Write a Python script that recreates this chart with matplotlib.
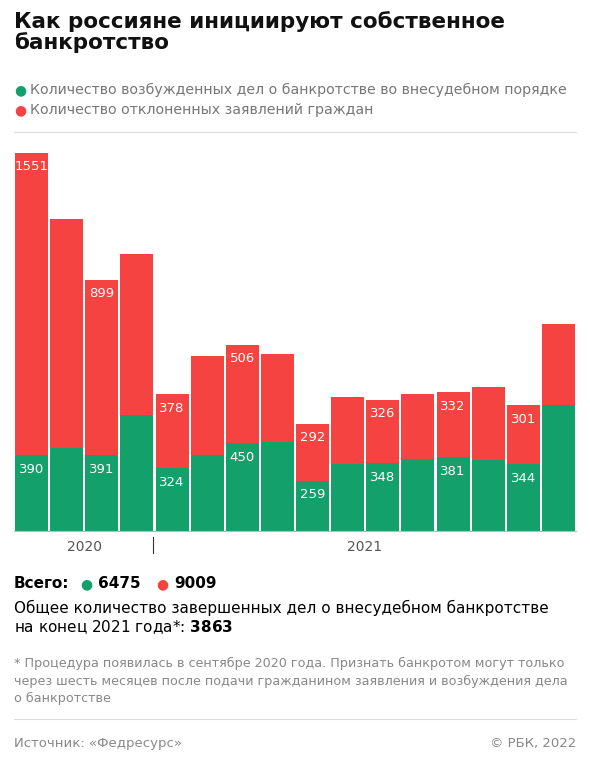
import matplotlib
matplotlib.use("Agg")
import matplotlib.pyplot as plt
from matplotlib.patches import Circle

green_vals = [390, 425, 391, 595, 324, 390, 450, 456, 259, 344, 348, 369, 381, 364, 344, 645]
red_vals = [1551, 1173, 899, 825, 378, 507, 506, 452, 292, 343, 326, 334, 332, 374, 301, 416]
labeled = [0, 2, 4, 6, 8, 10, 12, 14]
years = ["2020", "2021"]
GREEN = "#13a06b"
RED = "#f44340"
W, H = 590, 769

fig = plt.figure(figsize=(W/100, H/100), dpi=100)
fig.patch.set_facecolor("white")
def fx(x): return x / W
def fy(y): return 1 - y / H

fig.text(fx(14), fy(32), "Как россияне инициируют собственное\nбанкротство", fontsize=15.5, fontweight="bold", va="center", ha="left", linespacing=1.05, color="#111")
for yy, col, txt in [(90, GREEN, "Количество возбужденных дел о банкротстве во внесудебном порядке"),
                     (110, RED, "Количество отклоненных заявлений граждан")]:
    fig.text(fx(14), fy(yy), "●", color=col, fontsize=10, va="center")
    fig.text(fx(30), fy(yy), txt, color="#777", fontsize=10.2, va="center")
fig.add_artist(plt.Line2D([fx(14), fx(576)], [fy(132), fy(132)], color="#ddd", lw=0.8))

ax = fig.add_axes([fx(14), fy(531), fx(576-14), fy(145) - fy(531)])
x = list(range(len(green_vals)))
ax.bar(x, green_vals, width=0.94, color=GREEN)
ax.bar(x, red_vals, bottom=green_vals, width=0.94, color=RED)
for i in labeled:
    ax.text(i, green_vals[i] - 40, str(green_vals[i]), color="white", ha="center", va="top", fontsize=9.5)
    ax.text(i, green_vals[i] + red_vals[i] - 40, str(red_vals[i]), color="white", ha="center", va="top", fontsize=9.5)
ax.set_xlim(-0.5, len(x) - 0.5)
ax.set_ylim(0, sum([green_vals[0], red_vals[0]]) * 1.0)
ax.set_ylim(0, 1980)
ax.axis("off")
fig.add_artist(plt.Line2D([fx(14), fx(576)], [fy(531), fy(531)], color="#bbb", lw=0.8))
fig.add_artist(plt.Line2D([fx(153), fx(153)], [fy(537), fy(553)], color="#333", lw=0.8))
fig.text(fx(85), fy(547), years[0], fontsize=10, color="#555", ha="center", va="center")
fig.text(fx(365), fy(547), years[1], fontsize=10, color="#555", ha="center", va="center")

fig.text(fx(14), fy(584), "Всего:", fontsize=11, fontweight="bold", va="center")
fig.text(fx(80), fy(584), "●", color=GREEN, fontsize=10, va="center")
fig.text(fx(98), fy(584), "6475", fontsize=11, fontweight="bold", va="center")
fig.text(fx(156), fy(584), "●", color=RED, fontsize=10, va="center")
fig.text(fx(174), fy(584), "9009", fontsize=11, fontweight="bold", va="center")
fig.text(fx(14), fy(608), "Общее количество завершенных дел о внесудебном банкротстве", fontsize=11, va="center")
fig.text(fx(14), fy(627), "на конец 2021 года*: $\\bf{3863}$", fontsize=11, va="center")
fig.text(fx(14), fy(681), "* Процедура появилась в сентябре 2020 года. Признать банкротом могут только\nчерез шесть месяцев после подачи гражданином заявления и возбуждения дела\nо банкротстве",
         fontsize=9.2, color="#888", va="center", linespacing=1.45)
fig.add_artist(plt.Line2D([fx(14), fx(576)], [fy(719), fy(719)], color="#ddd", lw=0.8))
fig.text(fx(14), fy(744), "Источник: «Федресурс»", fontsize=9.5, color="#888", va="center")
fig.text(fx(576), fy(744), "© РБК, 2022", fontsize=9.5, color="#888", va="center", ha="right")

fig.savefig("out.png", dpi=100)
